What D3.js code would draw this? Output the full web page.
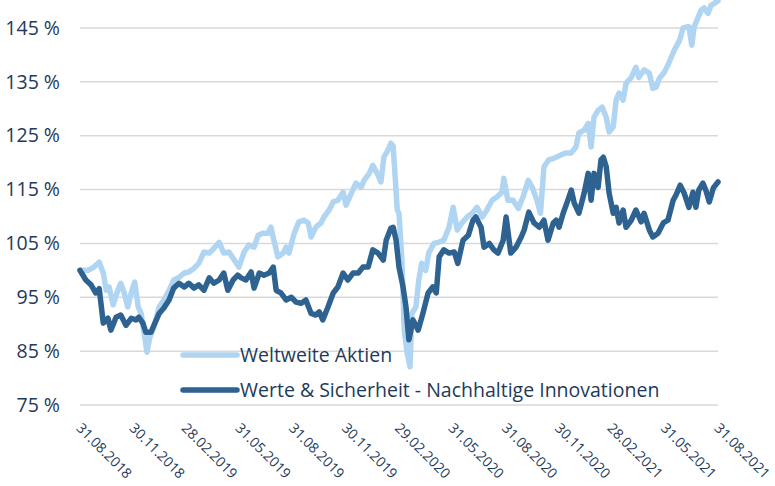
<!DOCTYPE html>
<html>
<head>
<meta charset="utf-8">
<script src="https://cdn.jsdelivr.net/npm/d3@7"></script>
<style>
body{margin:0;background:#fff;}
svg{display:block;font-family:"Open Sans",sans-serif;}
</style>
</head>
<body>
<div class="chart"></div>
<script>
// Tage seit 31.08.2018, Wert in %
var startDate = new Date(2018, 7, 31);
var tickDates = ["31.08.2018","30.11.2018","28.02.2019","31.05.2019","31.08.2019","30.11.2019",
	"29.02.2020","31.05.2020","31.08.2020","30.11.2020","28.02.2021","31.05.2021","31.08.2021"];
var yTicks = [75,85,95,105,115,125,135,145];
var seriesNames = ["Weltweite Aktien","Werte & Sicherheit - Nachhaltige Innovationen"];

var weltweite = [
[0,100],[14,100.0],[24,100.6],[33,101.5],[40,99.5],[45,96.3],[50,96.9],[57,93.6],[65,96.3],[70,97.6],
[76,95.8],[82,93.2],[88,95.8],[94,97.8],[100,93.2],[105,92.0],[110,88.4],[115,84.8],[120,87.6],[127,89.5],
[136,93.2],[144,94.5],[153,96.3],[161,98.2],[170,98.7],[179,99.5],[187,99.7],[196,100.4],[204,101.3],[213,103.4],
[222,103.2],[230,104.1],[239,105.2],[247,103.2],[256,103.4],[265,101.9],[273,100.6],[282,103.4],[290,104.7],[299,104.3],
[306,106.5],[314,106.9],[323,106.9],[328,108.0],[333,105.6],[340,102.5],[349,103.2],[354,104.3],[359,103.2],[368,106.9],
[376,109.0],[385,109.3],[392,108.8],[397,106.2],[405,108.0],[414,108.8],[419,109.9],[428,111.2],[435,112.7],[443,113.0],
[452,114.5],[457,112.1],[466,114.3],[474,116.2],[483,115.4],[488,116.7],[497,118.0],[503,119.5],[512,117.7],[517,116.4],
[522,121.0],[529,122.3],[534,123.6],[538,123.0],[541,118.0],[545,111.2],[548,110.6],[553,101.9],[557,88.9],[562,84.6],
[567,82.1],[570,92.0],[577,93.2],[582,98.2],[587,101.3],[594,100.0],[599,103.2],[608,105.0],[616,105.2],[625,105.6],
[634,108.0],[641,111.7],[648,107.5],[656,108.8],[665,109.9],[674,110.6],[682,111.7],[691,109.9],[699,111.2],[708,113.0],
[716,113.6],[725,114.5],[728,117.1],[735,113.0],[744,113.0],[753,111.5],[761,113.6],[770,116.7],[777,115.4],[785,113.0],
[791,110.6],[797,119.2],[805,120.5],[814,120.8],[818,121.0],[826,121.4],[835,121.8],[844,121.8],[852,122.9],[857,125.5],
[866,126.0],[873,127.3],[878,122.9],[883,128.4],[890,129.7],[897,130.3],[904,128.4],[909,125.7],[916,126.6],[921,131.6],
[926,132.9],[933,131.6],[938,134.7],[947,135.8],[955,137.7],[960,135.8],[969,137.2],[978,136.6],[984,133.8],[990,134.0],
[995,135.6],[1004,136.8],[1012,138.6],[1021,140.9],[1030,142.7],[1036,145.0],[1043,145.2],[1046,145.2],[1051,141.8],[1055,145.2],
[1062,147.0],[1067,148.3],[1072,148.7],[1079,147.7],[1084,149.2],[1093,149.8],[1096,150.0]
];

var werte = [
[0,100],[10,98.2],[19,97.3],[27,95.8],[33,96.6],[40,90.2],[48,91.1],[53,88.9],[62,91.3],[70,91.7],
[79,89.8],[88,91.1],[96,90.8],[101,91.3],[108,90.2],[113,88.5],[122,88.5],[127,89.8],[136,92.0],[144,93.0],
[153,94.5],[161,96.7],[170,97.6],[179,96.9],[187,97.6],[196,96.7],[204,97.3],[213,96.3],[222,98.6],[230,97.6],
[239,98.2],[247,99.5],[254,96.3],[263,98.2],[271,99.1],[277,98.6],[285,98.2],[294,99.7],[299,96.7],[308,99.5],
[316,99.1],[325,99.5],[332,100.6],[337,96.3],[345,95.8],[354,94.5],[363,95.0],[371,94.1],[380,93.9],[388,94.5],
[397,92.0],[405,91.7],[411,92.3],[417,90.8],[426,93.2],[435,95.8],[443,96.9],[452,99.5],[460,98.2],[469,99.5],
[478,99.5],[486,100.6],[495,100.6],[503,103.8],[512,103.2],[521,101.9],[526,105.6],[534,107.8],[538,108.0],[543,105.6],
[548,100.6],[555,96.9],[560,93.2],[565,87.1],[572,90.8],[581,88.9],[589,92.0],[598,95.8],[606,96.9],[612,95.8],
[617,102.5],[625,103.8],[634,103.2],[643,103.4],[649,101.3],[658,105.6],[667,106.5],[675,109.3],[680,109.9],[689,108.0],
[694,104.3],[703,105.0],[711,103.8],[718,103.2],[727,105.6],[732,109.9],[740,103.2],[749,104.3],[758,106.2],[763,107.5],
[771,110.8],[780,108.8],[789,108.0],[797,109.3],[804,105.6],[813,108.8],[818,109.3],[823,108.0],[830,110.6],[838,113.0],
[844,114.9],[849,112.5],[857,110.6],[866,114.3],[873,118.0],[878,113.0],[883,118.0],[890,115.4],[895,120.5],[899,121.0],
[904,119.2],[909,114.3],[916,110.6],[921,111.7],[926,108.8],[933,111.2],[938,108.0],[947,109.3],[955,111.2],[964,109.0],
[969,110.6],[978,107.5],[984,106.2],[993,106.9],[1002,108.8],[1010,109.3],[1019,113.0],[1024,114.0],[1031,115.8],[1038,114.3],
[1046,111.7],[1053,114.5],[1058,111.7],[1063,114.9],[1070,116.2],[1075,114.9],[1081,112.7],[1088,115.3],[1096,116.4]
];

var colors = ["#AFD5F3","#2E6291"];
var textColor = "#1F3A5A";

var width=775, height=486;
var svg=d3.select('div.chart').append('svg')
	.attr('width',width)
	.attr('height',height);

var parseDate=d3.timeParse('%d.%m.%Y');
var endDate=parseDate(tickDates[tickDates.length-1]);

var xScale=d3.scaleTime()
	.domain([startDate,endDate])
	.range([80,718]);
var yScale=d3.scaleLinear()
	.domain([75,150])
	.range([405,1]);

// Gitterlinien
svg.append('g')
	.selectAll('line')
	.data(yTicks)
	.enter()
	.append('line')
	.attr('x1',80)
	.attr('x2',718)
	.attr('y1',function(d){return yScale(d);})
	.attr('y2',function(d){return yScale(d);})
	.attr('stroke','#D9D9D9')
	.attr('stroke-width',1.5);

// y-Achse
var yAxis=svg.append('g')
	.attr('transform','translate(68,0)')
	.call(d3.axisLeft(yScale).tickValues(yTicks).tickSize(0).tickPadding(8)
		.tickFormat(function(d){return d+' %';}));
yAxis.select('.domain').remove();
yAxis.selectAll('text')
	.attr('fill',textColor)
	.attr('font-size','19.5px')
	.attr('font-family','"Open Sans",sans-serif');

// x-Achse
var xAxis=svg.append('g')
	.attr('transform','translate(0,405)')
	.call(d3.axisBottom(xScale).tickValues(tickDates.map(parseDate)).tickSize(0)
		.tickFormat(d3.timeFormat('%d.%m.%Y')));
xAxis.select('.domain').remove();
xAxis.selectAll('text')
	.attr('fill',textColor)
	.attr('font-size','14px')
	.attr('font-family','"Open Sans",sans-serif')
	.attr('text-anchor','start')
	.attr('dy',0)
	.attr('y',0)
	.attr('transform','translate(-5,24) rotate(45)');

// Linien
var line=d3.line()
	.x(function(d){return xScale(d3.timeDay.offset(startDate,d[0]));})
	.y(function(d){return yScale(d[1]);});

[weltweite,werte].forEach(function(s,i){
	svg.append('path')
		.datum(s)
		.attr('d',line)
		.attr('fill','none')
		.attr('stroke',colors[i])
		.attr('stroke-width',5.5)
		.attr('stroke-linejoin','round')
		.attr('stroke-linecap','round');
});

// Legende
var legend=svg.append('g');
seriesNames.forEach(function(name,i){
	var y=355+i*35;
	legend.append('line')
		.attr('x1',183).attr('x2',237)
		.attr('y1',y).attr('y2',y)
		.attr('stroke',colors[i])
		.attr('stroke-width',5.5)
		.attr('stroke-linecap','round');
	legend.append('text')
		.attr('x',240)
		.attr('y',y)
		.attr('dy','0.35em')
		.attr('fill',textColor)
		.attr('font-size','19.5px')
		.text(name);
});
</script>
</body>
</html>
